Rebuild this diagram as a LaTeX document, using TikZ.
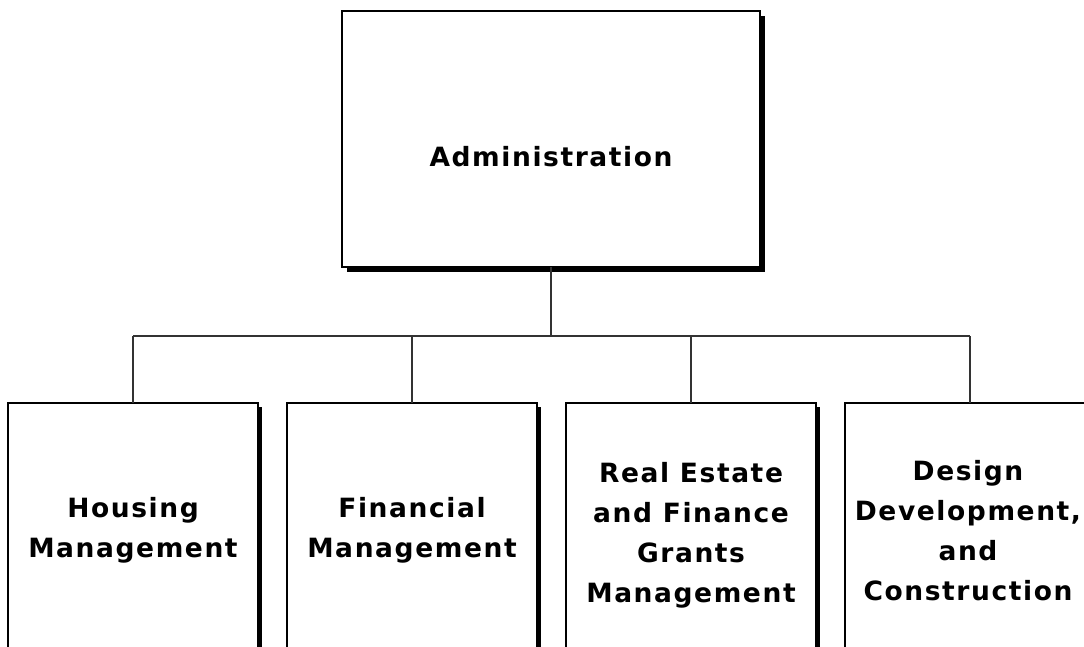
\documentclass[tikz,border=0pt]{standalone}
\usepackage{fontspec}
\newfontfamily\boxfont[LetterSpace=6]{DejaVu Sans Bold}
\begin{document}
\begin{tikzpicture}[x=1pt,y=-1pt,
  box/.style={draw=black,line width=1.2pt,fill=white,minimum width=250pt,minimum height=256pt,inner sep=0pt,outer sep=0pt,anchor=north west},
  topbox/.style={box,minimum width=418pt},
  shadowbox/.style={fill=black,minimum width=250pt,minimum height=256pt,inner sep=0pt,outer sep=0pt,anchor=north west,draw=none},
  lbl/.style={font=\boxfont\fontsize{26.5}{40}\selectfont,align=center,anchor=base,inner sep=0pt},
  conn/.style={draw=black!80,line width=1.1pt}]
\useasboundingbox (0,0) rectangle (1084,646);
\clip (0,0) rectangle (1084,646);
% shadows
\node[shadowbox,minimum width=418pt] (s0) at (347,16) {};
\node[shadowbox] (s1) at (12,407) {};
\node[shadowbox] (s2) at (291,407) {};
\node[shadowbox] (s3) at (570,407) {};
\node[shadowbox] (s4) at (849,407) {};
% boxes
\node[topbox] (admin) at (342,11) {};
\node[box] (hm) at (8,403) {};
\node[box] (fm) at (287,403) {};
\node[box] (re) at (566,403) {};
\node[box] (dd) at (845,403) {};
% connectors
\coordinate (bus) at (551,336);
\coordinate (busl) at (133,336);
\coordinate (busr) at (970,336);
\draw[conn] (admin.south) -- (bus);
\draw[conn] (busl) -- (busr);
\draw[conn] (busl) -- (busl |- hm.north);
\draw[conn] (412,336) -- (412,403);
\draw[conn] (691,336) -- (691,403);
\draw[conn] (busr) -- (busr |- dd.north);
% labels
\node[lbl] (tadmin) at (551,166) {Administration};
\node[lbl] (thm) at (133,557) {Housing\\Management};
\node[lbl] (tfm) at (412,557) {Financial\\Management};
\node[lbl] (tre) at (691,602) {Real Estate\\and Finance\\Grants\\Management};
\node[lbl] (tdd) at (968,600) {Design\\Development,\\and\\Construction};
\end{tikzpicture}
\end{document}
